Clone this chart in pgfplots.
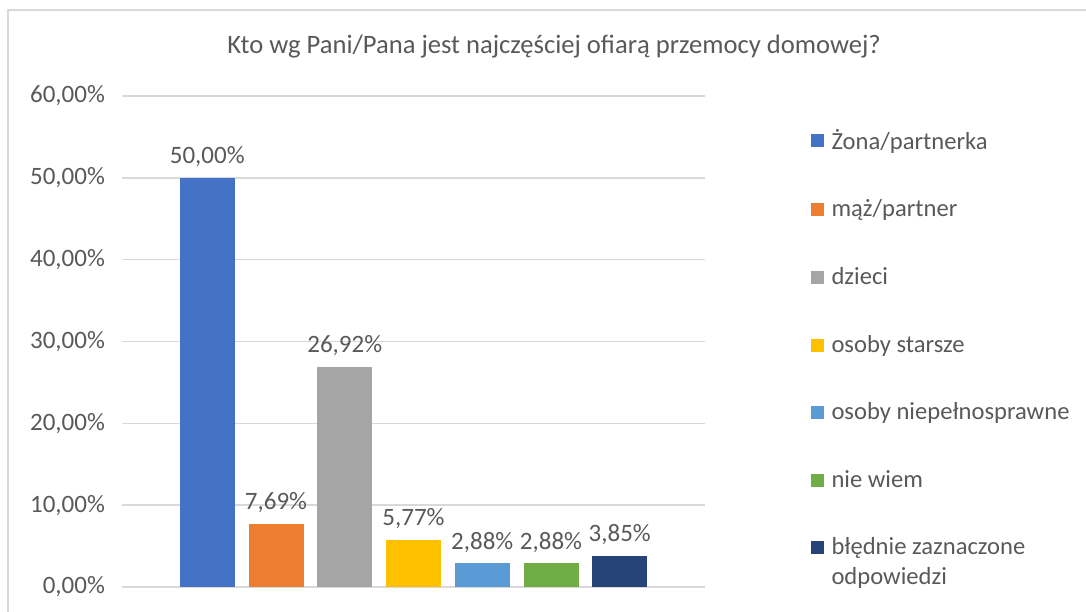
\documentclass[border=0pt]{standalone}
\usepackage{fontspec}
\setmainfont{Carlito}
\usepackage{pgfplots}
\pgfplotsset{compat=1.18}
\definecolor{txtgray}{HTML}{595959}
\definecolor{gridgray}{HTML}{D9D9D9}
\definecolor{c1}{HTML}{4472C4}
\definecolor{c2}{HTML}{ED7D31}
\definecolor{c3}{HTML}{A5A5A5}
\definecolor{c4}{HTML}{FFC000}
\definecolor{c5}{HTML}{5B9BD5}
\definecolor{c6}{HTML}{70AD47}
\definecolor{c7}{HTML}{264478}
% legend square sits on the first of two lines
\pgfplotsset{shiftedlegend/.style={legend image code/.code={\fill[##1] (0pt,4.25pt) rectangle (6.5pt,10.75pt);}}}

\begin{document}
\begin{tikzpicture}[x=0.5pt,y=-0.5pt]
\useasboundingbox (0,0) rectangle (1086,611);
\draw[gridgray, line width=0.8pt] (8,10) rectangle (1095,620);
\node[font=\fontsize{13.3}{15}\selectfont, text=txtgray] at (554,47) {Kto wg Pani/Pana jest najczęściej ofiarą przemocy domowej?};
\begin{axis}[
    at={(61pt,-293.5pt)}, anchor=south west,
    scale only axis, width=291.5pt, height=245.5pt,
    ybar, bar width=27.5pt,
    every axis plot/.append style={bar shift=0pt, draw=none},
    xmin=-1.24, xmax=7.24, ymin=0, ymax=60,
    xtick=\empty,
    ytick={0,10,...,60},
    ymajorgrids,
    grid style={gridgray, line width=0.8pt},
    axis line style={draw=none},
    major tick length=0pt,
    tick label style={font=\fontsize{12.5}{14}\selectfont, text=txtgray},
    /pgf/number format/assume math mode=true,
    yticklabel={\pgfmathprintnumber[fixed,fixed zerofill,precision=2,use comma]{\tick}\%},
    yticklabel style={xshift=-5pt},
    nodes near coords={\pgfmathprintnumber[fixed,fixed zerofill,precision=2,use comma]{\pgfplotspointmeta}\%},
    every node near coord/.append style={font=\fontsize{12.5}{14}\selectfont, text=txtgray, yshift=2pt},
    legend style={at={(axis description cs:1.170,0.950)}, anchor=north west,
        draw=none, fill=none, font=\fontsize{12.3}{15}\selectfont, text=txtgray,
        row sep=19.8pt, cells={anchor=west, align=left}},
    legend image code/.code={\fill[#1] (0pt,-3.25pt) rectangle (6.5pt,3.25pt);},
]
\addplot[fill=c1] coordinates {(0,50.00)};
\addlegendentry{\hspace{2pt}Żona/partnerka}
\addplot[fill=c2] coordinates {(1,7.69)};
\addlegendentry{\hspace{2pt}mąż/partner}
\addplot[fill=c3] coordinates {(2,26.92)};
\addlegendentry{\hspace{2pt}dzieci}
\addplot[fill=c4] coordinates {(3,5.77)};
\addlegendentry{\hspace{2pt}osoby starsze}
\addplot[fill=c5] coordinates {(4,2.88)};
\addlegendentry{\hspace{2pt}osoby niepełnosprawne}
\addplot[fill=c6] coordinates {(5,2.88)};
\addlegendentry{\hspace{2pt}nie wiem}
\addplot[fill=c7, shiftedlegend] coordinates {(6,3.85)};
\addlegendentry{\hspace{2pt}błędnie zaznaczone\\\hspace{2pt}odpowiedzi}
\end{axis}
\end{tikzpicture}
\end{document}
